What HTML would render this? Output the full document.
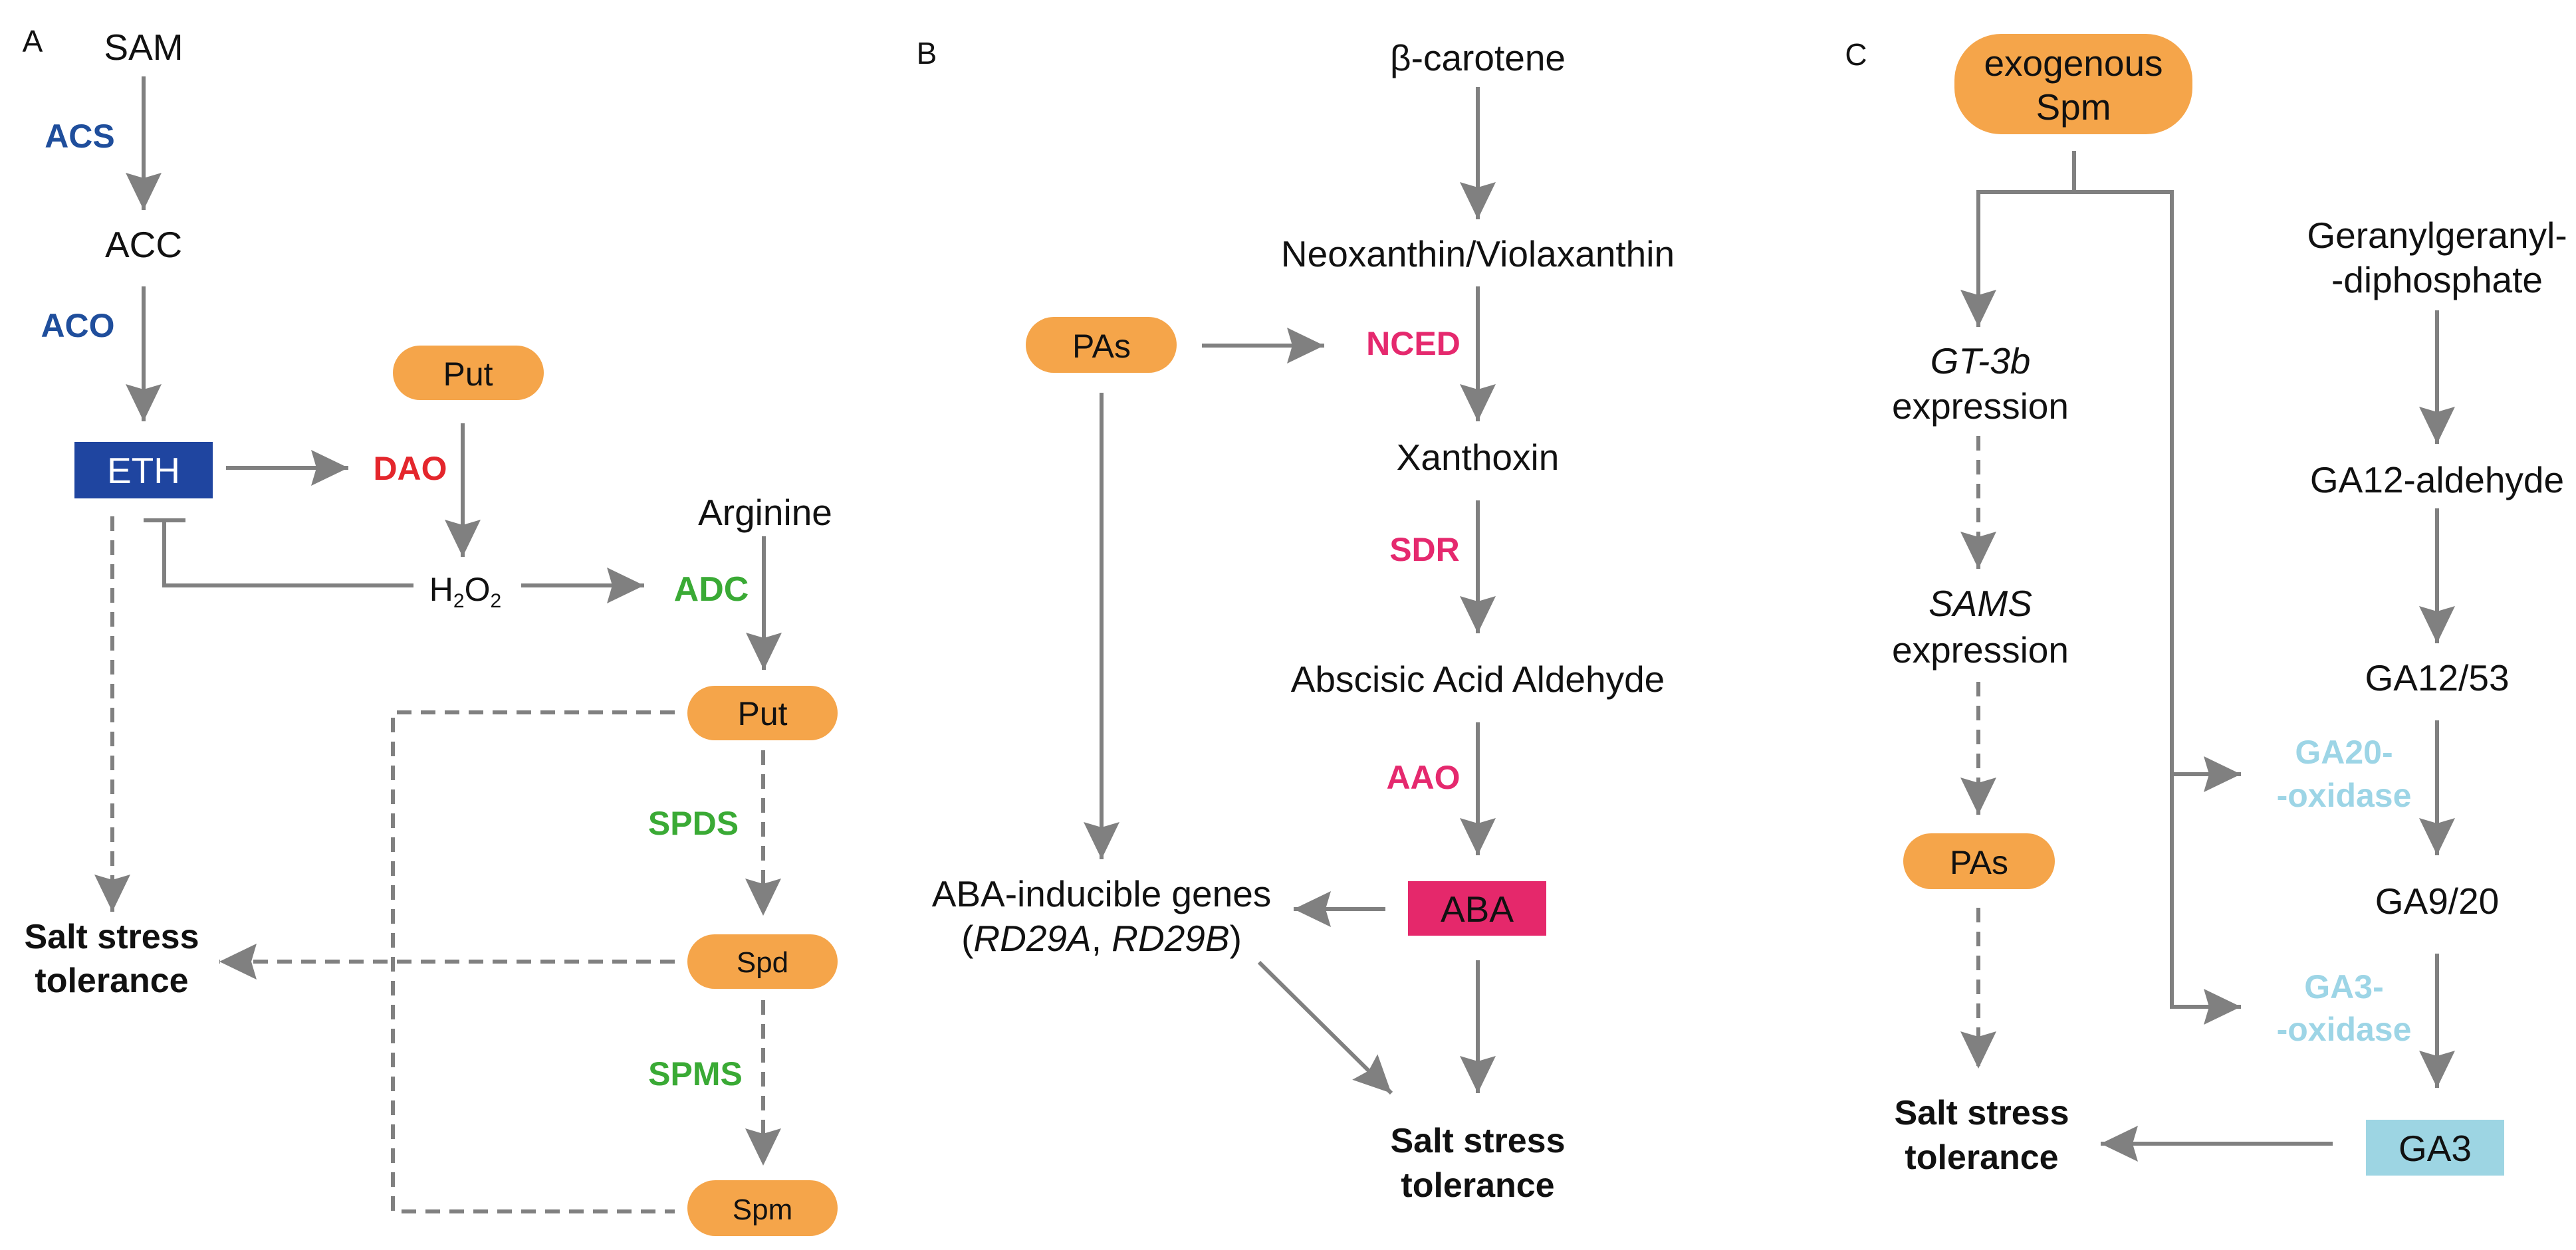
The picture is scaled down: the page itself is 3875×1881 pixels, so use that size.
<!DOCTYPE html>
<html><head><meta charset="utf-8"><style>
html,body{margin:0;padding:0;background:#fff}
svg{display:block}
text{font-family:"Liberation Sans",Arial,sans-serif;fill:#111}
.b{font-weight:bold}
</style></head><body>
<svg width="3875" height="1881" viewBox="0 0 3875 1881" xmlns="http://www.w3.org/2000/svg">
<defs>
<marker id="ah" markerUnits="userSpaceOnUse" markerWidth="70" markerHeight="64" refX="56" refY="30" orient="auto">
<path d="M0,3 L56,30 L0,57 L8,30 z" fill="#808080"/>
</marker>
</defs>
<g stroke="#808080" stroke-width="6" fill="none">
<line x1="216" y1="115" x2="216" y2="316" marker-end="url(#ah)"/>
<line x1="216" y1="431" x2="216" y2="634" marker-end="url(#ah)"/>
<line x1="340" y1="704" x2="524" y2="704" marker-end="url(#ah)"/>
<line x1="696" y1="637" x2="696" y2="838" marker-end="url(#ah)"/>
<polyline points="622,881 247,881 247,783"/>
<line x1="216" y1="783" x2="279" y2="783"/>
<line x1="784" y1="881" x2="969" y2="881" marker-end="url(#ah)"/>
<line x1="1149" y1="807" x2="1149" y2="1008" marker-end="url(#ah)"/>
<g stroke-dasharray="22 14">
<polyline points="1015,1072 591,1072 591,1823 1015,1823"/>
<line x1="1148" y1="1129" x2="1148" y2="1378" marker-end="url(#ah)"/>
<line x1="1148" y1="1505" x2="1148" y2="1754" marker-end="url(#ah)"/>
<line x1="1015" y1="1447" x2="330" y2="1447" marker-end="url(#ah)"/>
<line x1="169" y1="777" x2="169" y2="1372" marker-end="url(#ah)"/>
</g>
<line x1="2223" y1="131" x2="2223" y2="330" marker-end="url(#ah)"/>
<line x1="2223" y1="431" x2="2223" y2="634" marker-end="url(#ah)"/>
<line x1="1808" y1="520" x2="1992" y2="520" marker-end="url(#ah)"/>
<line x1="1657" y1="591" x2="1657" y2="1293" marker-end="url(#ah)"/>
<line x1="2223" y1="753" x2="2223" y2="953" marker-end="url(#ah)"/>
<line x1="2223" y1="1087" x2="2223" y2="1287" marker-end="url(#ah)"/>
<line x1="2084" y1="1368" x2="1946" y2="1368" marker-end="url(#ah)"/>
<line x1="1894" y1="1448" x2="2093" y2="1645" marker-end="url(#ah)"/>
<line x1="2223" y1="1445" x2="2223" y2="1645" marker-end="url(#ah)"/>
<polyline points="3120,227 3120,289"/>
<polyline points="2976,492 2976,289 3267,289 3267,1515 3371,1515" marker-end="url(#ah)"/>
<line x1="2976" y1="300" x2="2976" y2="492" marker-end="url(#ah)"/>
<line x1="3267" y1="1165" x2="3371" y2="1165" marker-end="url(#ah)"/>
<g stroke-dasharray="22 14">
<line x1="2976" y1="656" x2="2976" y2="856" marker-end="url(#ah)"/>
<line x1="2976" y1="1026" x2="2976" y2="1226" marker-end="url(#ah)"/>
<line x1="2976" y1="1366" x2="2976" y2="1608" marker-end="url(#ah)"/>
</g>
<line x1="3666" y1="467" x2="3666" y2="668" marker-end="url(#ah)"/>
<line x1="3666" y1="765" x2="3666" y2="968" marker-end="url(#ah)"/>
<line x1="3666" y1="1084" x2="3666" y2="1287" marker-end="url(#ah)"/>
<line x1="3666" y1="1435" x2="3666" y2="1637" marker-end="url(#ah)"/>
<line x1="3509" y1="1721" x2="3160" y2="1721" marker-end="url(#ah)"/>
</g>

<rect x="112" y="665" width="208" height="85" fill="#1f45a0"/>
<rect x="591" y="520" width="227" height="82" rx="41" fill="#f5a54a"/>
<rect x="1034" y="1032" width="226" height="82" rx="41" fill="#f5a54a"/>
<rect x="1034" y="1406" width="226" height="82" rx="41" fill="#f5a54a"/>
<rect x="1034" y="1776" width="226" height="84" rx="42" fill="#f5a54a"/>
<rect x="1543" y="477" width="227" height="84" rx="42" fill="#f5a54a"/>
<rect x="2118" y="1326" width="208" height="82" fill="#e5286b"/>
<rect x="2940" y="51" width="358" height="151" rx="70" fill="#f5a54a"/>
<rect x="2863" y="1254" width="228" height="84" rx="42" fill="#f5a54a"/>
<rect x="3559" y="1685" width="208" height="84" fill="#9dd5e3"/>

<g font-size="55" text-anchor="middle">
<text x="49" y="78" font-size="46">A</text>
<text x="216" y="90">SAM</text>
<text x="216" y="387">ACC</text>
<text class="b" x="120" y="222" font-size="50" style="fill:#1f4e9c">ACS</text>
<text class="b" x="117" y="507" font-size="50" style="fill:#1f4e9c">ACO</text>
<text x="216" y="727" style="fill:#fff">ETH</text>
<text x="704" y="580" font-size="50">Put</text>
<text class="b" x="617" y="722" font-size="50" style="fill:#e4262c">DAO</text>
<text x="700" y="904" font-size="50">H<tspan font-size="30" dy="10">2</tspan><tspan dy="-10">O</tspan><tspan font-size="30" dy="10">2</tspan></text>
<text class="b" x="1070" y="904" font-size="52" style="fill:#3aaa35">ADC</text>
<text x="1151" y="790">Arginine</text>
<text x="1147" y="1091" font-size="50">Put</text>
<text x="1147" y="1463" font-size="44">Spd</text>
<text x="1147" y="1835" font-size="44">Spm</text>
<text class="b" x="1043" y="1256" font-size="50" style="fill:#3aaa35">SPDS</text>
<text class="b" x="1046" y="1633" font-size="50" style="fill:#3aaa35">SPMS</text>
<text class="b" x="168" y="1427" font-size="52">Salt stress</text>
<text class="b" x="168" y="1493" font-size="52">tolerance</text>

<text x="1394" y="96" font-size="46">B</text>
<text x="2223" y="106">β-carotene</text>
<text x="2223" y="401">Neoxanthin/Violaxanthin</text>
<text class="b" x="2126" y="534" font-size="50" style="fill:#e5296e">NCED</text>
<text x="1657" y="538" font-size="50">PAs</text>
<text x="2223" y="707">Xanthoxin</text>
<text class="b" x="2143" y="844" font-size="50" style="fill:#e5296e">SDR</text>
<text x="2223" y="1041">Abscisic Acid Aldehyde</text>
<text class="b" x="2141" y="1187" font-size="50" style="fill:#e5296e">AAO</text>
<text x="2222" y="1387">ABA</text>
<text x="1657" y="1364">ABA-inducible genes</text>
<text x="1657" y="1431">(<tspan font-style="italic">RD29A</tspan>, <tspan font-style="italic">RD29B</tspan>)</text>
<text class="b" x="2223" y="1734" font-size="52">Salt stress</text>
<text class="b" x="2223" y="1801" font-size="52">tolerance</text>

<text x="2792" y="98" font-size="46">C</text>
<text x="3119" y="114">exogenous</text>
<text x="3119" y="180">Spm</text>
<text x="2979" y="562" font-style="italic">GT-3b</text>
<text x="2979" y="630">expression</text>
<text x="2979" y="927" font-style="italic">SAMS</text>
<text x="2979" y="997">expression</text>
<text x="2977" y="1315" font-size="50">PAs</text>
<text class="b" x="2981" y="1692" font-size="52">Salt stress</text>
<text class="b" x="2981" y="1759" font-size="52">tolerance</text>
<text x="3666" y="373">Geranylgeranyl-</text>
<text x="3666" y="440">-diphosphate</text>
<text x="3666" y="741">GA12-aldehyde</text>
<text x="3666" y="1039">GA12/53</text>
<text x="3666" y="1375">GA9/20</text>
<text x="3663" y="1747">GA3</text>
<g class="b" font-size="50">
<text x="3526" y="1149" style="fill:#9dd5e6">GA20-</text>
<text x="3526" y="1214" style="fill:#9dd5e6">-oxidase</text>
<text x="3526" y="1502" style="fill:#9dd5e6">GA3-</text>
<text x="3526" y="1566" style="fill:#9dd5e6">-oxidase</text>
</g>
</g>
</svg>
</body></html>
